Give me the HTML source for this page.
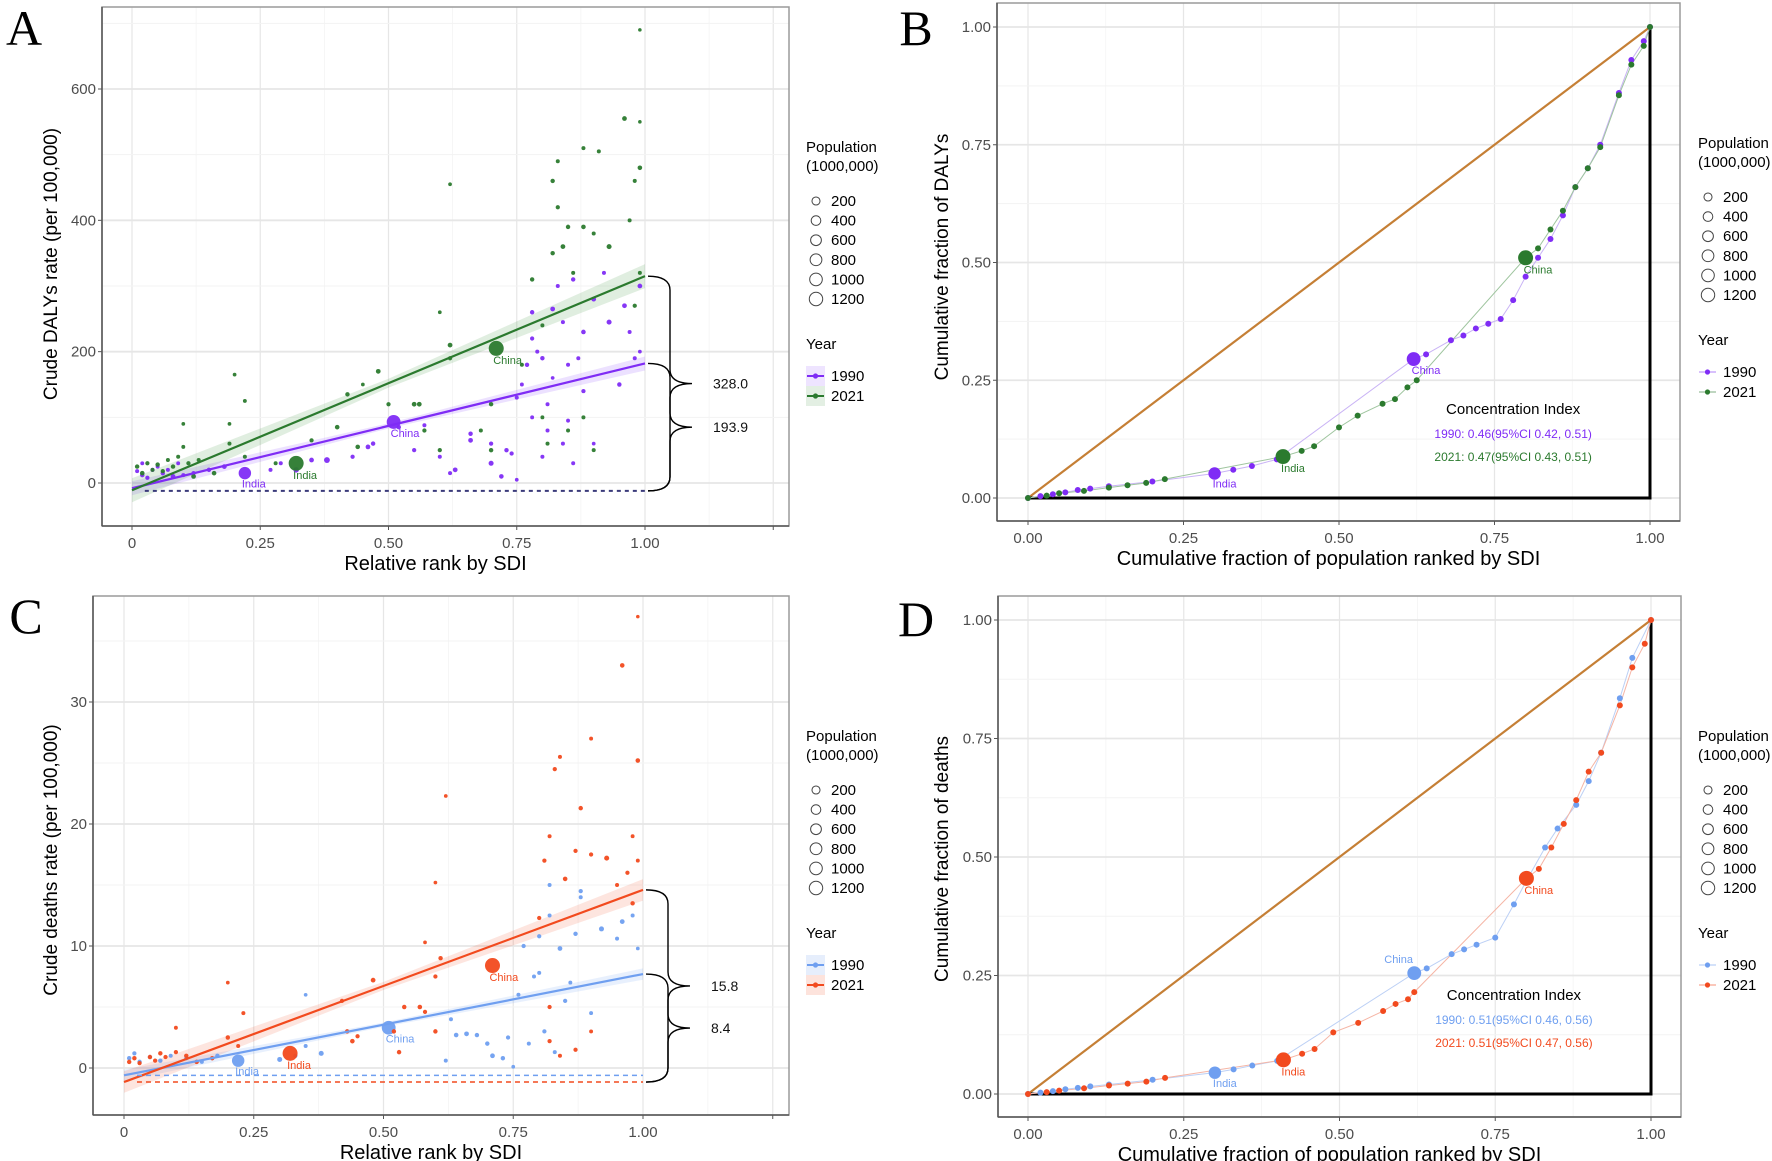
<!DOCTYPE html>
<html><head><meta charset="utf-8"><style>
html,body{margin:0;padding:0;background:#fff;}
svg{display:block;}
text{font-family:"Liberation Sans",Arial,sans-serif;}
.tick{font-family:"Liberation Sans Narrow","Liberation Sans",sans-serif;font-size:15px;fill:#4d4d4d;}
.xt{font-family:"Liberation Sans Narrow","Liberation Sans",sans-serif;font-size:20px;fill:#000;}
.yt{font-size:19px;fill:#000;}
.leg{font-size:15px;fill:#000;}
.plab{font-family:"Liberation Serif",serif;font-size:50px;fill:#000;}
.cl{font-family:"Liberation Sans Narrow","Liberation Sans",sans-serif;font-size:11px;}
</style></head><body>
<svg id="fig" width="1772" height="1161" viewBox="0 0 1772 1161" xmlns="http://www.w3.org/2000/svg"></svg>
<script>
// ---------- DATA ----------
const aX1990=[0.22,0.51,0.32,0.35,0.38,0.46,0.52,0.55,0.6,0.62,0.63,0.66,0.66,0.7,0.7,0.72,0.73,0.74,0.75,0.75,0.76,0.77,0.78,0.78,0.79,0.8,0.81,0.81,0.82,0.82,0.83,0.84,0.85,0.86,0.87,0.88,0.88,0.9,0.92,0.93,0.95,0.96,0.97,0.99,0.99,0.98,0.84,0.86,0.9,0.78,0.8,0.85,0.57,0.47,0.43,0.27,0.29,0.18,0.15,0.12,0.08,0.06,0.04,0.02,0.01,0.03,0.05,0.07,0.1,0.09,0.02];
const aY1990=[15,93,20,35,35,55,85,50,40,15,20,65,75,60,30,10,50,45,5,130,150,180,220,260,200,190,120,80,160,265,300,245,180,310,190,140,230,280,320,245,150,270,230,300,200,190,60,30,60,100,40,95,88,60,40,20,30,25,20,15,10,15,20,12,18,8,25,20,12,30,30];
const aP1990=[870,1150,60,30,80,30,20,15,10,10,30,30,20,15,40,25,20,15,5,10,8,20,15,20,10,20,10,10,5,30,10,10,10,20,10,15,25,30,10,40,20,30,10,30,5,10,10,10,5,8,10,8,10,20,15,10,10,30,20,15,30,20,15,20,10,15,10,10,10,8,8];
const aX2021=[0.32,0.71,0.01,0.02,0.03,0.04,0.05,0.06,0.07,0.08,0.09,0.1,0.1,0.11,0.12,0.13,0.16,0.19,0.19,0.2,0.22,0.22,0.28,0.35,0.4,0.42,0.44,0.45,0.48,0.5,0.55,0.56,0.57,0.6,0.62,0.62,0.6,0.62,0.7,0.7,0.78,0.8,0.82,0.82,0.83,0.83,0.84,0.85,0.86,0.88,0.88,0.9,0.91,0.93,0.96,0.97,0.98,0.99,0.99,0.99,0.99,0.98,0.81,0.88,0.85,0.9,0.8,0.68,0.76];
const aY2021=[30,205,25,15,30,20,28,18,35,25,40,55,90,30,10,35,15,60,90,165,125,40,30,65,85,135,55,150,170,120,120,120,80,50,210,190,260,455,50,120,310,240,350,460,420,490,360,390,320,390,510,380,505,360,555,400,460,480,320,690,550,270,60,100,80,50,100,80,180];
const aP2021=[1400,1410,20,25,15,10,20,15,10,20,10,8,5,15,30,10,25,10,5,5,8,10,10,15,25,20,25,5,30,15,30,30,15,15,30,15,5,5,20,20,20,10,20,20,15,10,30,20,10,25,10,10,10,40,30,10,10,25,10,3,3,15,10,10,10,10,8,10,10];
const aFit1990=[-8,182], aFit2021=[-11,315], aBase=-12, aGapLabels=["328.0","193.9"];
const aYTicks=[0,200,400,600], aXTicks=[0,0.25,0.5,0.75,1], aXTickLabels=["0","0.25","0.50","0.75","1.00"];

const cX1990=[0.22,0.51,0.01,0.02,0.03,0.05,0.07,0.09,0.12,0.15,0.18,0.3,0.33,0.35,0.38,0.35,0.63,0.62,0.64,0.66,0.68,0.7,0.71,0.73,0.74,0.75,0.76,0.77,0.8,0.79,0.81,0.82,0.84,0.85,0.87,0.88,0.92,0.96,0.95,0.98,0.99,0.82,0.78,0.88,0.86,0.9,0.83,0.8];
const cY1990=[0.6,3.3,0.8,1.2,0.5,0.9,0.6,1.0,0.8,0.5,1.0,0.7,1.0,1.8,1.2,6.0,4.0,0.6,2.7,2.8,2.7,2.0,1.0,0.8,2.5,0.1,6.0,10.0,10.8,7.5,3.0,12.5,9.8,5.5,11,14.5,11.4,12,10.6,12.5,9.8,15,2.0,14,7,4.5,1.3,7.8];
const cP1990=[870,1150,20,15,20,15,20,10,15,10,20,40,20,10,40,5,10,10,25,30,20,20,30,20,15,5,10,15,15,10,15,10,30,15,20,15,40,30,10,10,5,10,10,10,8,8,10,10];
const cX2021=[0.32,0.71,0.01,0.02,0.03,0.05,0.06,0.07,0.08,0.1,0.1,0.12,0.14,0.17,0.2,0.2,0.22,0.23,0.42,0.43,0.44,0.45,0.48,0.52,0.53,0.54,0.57,0.58,0.6,0.6,0.61,0.58,0.6,0.62,0.8,0.81,0.82,0.83,0.85,0.84,0.87,0.88,0.9,0.9,0.93,0.96,0.97,0.98,0.99,0.99,0.98,0.99,0.82,0.82,0.87,0.9,0.84,0.95];
const cY2021=[1.2,8.4,0.5,0.8,0.4,0.9,0.6,1.2,0.9,3.3,1.3,1.0,0.5,0.8,7.0,2.5,1.8,4.5,5.5,3.0,2.2,2.6,7.2,3.0,1.3,5.0,5.0,4.6,7.5,3.0,9.0,10.3,15.2,22.3,12.3,17,19,24.5,15.5,25.5,17.8,21.3,17.5,27,17.2,33,16,13.5,25.2,37,19,17,5.0,2.2,1.5,3.0,1.0,15];
const cP2021=[1400,1410,20,20,15,20,15,20,15,8,15,20,20,20,5,20,10,10,15,20,25,15,30,20,20,20,25,15,15,20,20,5,5,5,15,15,10,15,25,10,15,20,15,8,40,25,15,20,25,3,8,8,15,15,15,8,10,10];
const cFit1990=[-0.6,7.7], cFit2021=[-1.15,14.6], cBase1990=-0.6, cBase2021=-1.15, cGapLabels=["15.8","8.4"];
const cYTicks=[0,10,20,30];

const bX1990=[0,0.02,0.04,0.06,0.08,0.1,0.13,0.2,0.3,0.33,0.36,0.4,0.62,0.64,0.68,0.7,0.72,0.74,0.76,0.78,0.8,0.82,0.84,0.86,0.88,0.9,0.92,0.95,0.97,0.99,1];
const bY1990=[0,0.004,0.008,0.012,0.017,0.02,0.025,0.035,0.052,0.06,0.068,0.082,0.295,0.305,0.335,0.345,0.36,0.37,0.38,0.42,0.47,0.51,0.55,0.6,0.66,0.7,0.75,0.86,0.93,0.97,1];
const bP1990=[5,10,15,15,20,15,20,15,870,20,20,40,1150,20,30,20,30,20,20,20,20,30,20,20,20,15,15,25,15,10,5];
const bX2021=[0,0.03,0.05,0.09,0.13,0.16,0.19,0.22,0.41,0.44,0.46,0.5,0.53,0.57,0.59,0.61,0.625,0.8,0.82,0.84,0.86,0.88,0.9,0.92,0.95,0.97,0.99,1];
const bY2021=[0,0.005,0.01,0.015,0.022,0.027,0.032,0.04,0.088,0.1,0.11,0.15,0.175,0.2,0.21,0.235,0.25,0.51,0.53,0.57,0.61,0.66,0.7,0.745,0.855,0.92,0.96,1];
const bP2021=[5,15,20,20,25,30,30,20,1400,25,25,30,25,20,15,20,15,1410,20,20,20,25,15,15,30,15,10,5];
const bCI=["1990: 0.46(95%CI 0.42, 0.51)","2021: 0.47(95%CI 0.43, 0.51)"];

const dX1990=[0,0.02,0.04,0.06,0.08,0.1,0.13,0.2,0.3,0.33,0.36,0.4,0.62,0.64,0.68,0.7,0.72,0.75,0.78,0.8,0.83,0.85,0.88,0.9,0.92,0.95,0.97,1];
const dY1990=[0,0.003,0.006,0.01,0.013,0.016,0.02,0.03,0.045,0.052,0.06,0.07,0.255,0.265,0.295,0.305,0.315,0.33,0.4,0.45,0.52,0.56,0.61,0.66,0.72,0.835,0.92,1];
const dP1990=[5,10,15,15,20,15,20,15,870,20,20,40,1150,20,30,20,30,20,20,20,20,20,20,15,15,25,15,5];
const dX2021=[0,0.03,0.05,0.09,0.13,0.16,0.19,0.22,0.41,0.44,0.46,0.49,0.53,0.57,0.59,0.61,0.62,0.8,0.82,0.84,0.86,0.88,0.9,0.92,0.95,0.97,0.99,1];
const dY2021=[0,0.004,0.007,0.012,0.018,0.022,0.026,0.034,0.072,0.085,0.095,0.13,0.15,0.175,0.19,0.2,0.215,0.455,0.475,0.52,0.57,0.62,0.68,0.72,0.82,0.9,0.95,1];
const dP2021=[5,15,20,20,25,30,30,20,1400,25,25,30,25,20,15,20,15,1410,20,20,20,25,15,15,30,15,10,5];
const dCI=["1990: 0.51(95%CI 0.46, 0.56)","2021: 0.51(95%CI 0.47, 0.56)"];

const legendSizes=[200,400,600,800,1000,1200];
const years=["1990","2021"];

// ---------- DRAWING ----------
const NS="http://www.w3.org/2000/svg";
const svg=document.getElementById('fig');
function mk(tag,attrs,parent,txt){const e=document.createElementNS(NS,tag);for(const k in attrs)e.setAttribute(k,attrs[k]);if(txt!==undefined)e.textContent=txt;(parent||svg).appendChild(e);return e;}
function rad(p){return 1.5+Math.sqrt(p)*0.16;}

function frame(P){
  const g=mk('g',{});
  
  
  mk('rect',{x:P.L,y:P.T,width:P.R-P.L,height:P.B-P.T,fill:'#fff'},g);
  for(let v=P.xmin;v<=P.xmax+1e-9;v+=P.xstep/2){const x=P.sx(v);const maj=Math.abs(v/P.xstep-Math.round(v/P.xstep))<1e-6;if(x>P.L&&x<P.R)mk('line',{x1:x,x2:x,y1:P.T,y2:P.B,stroke:maj?'#e6e6e6':'#f3f3f3','stroke-width':maj?1.2:0.8},g);}
  for(let v=P.ymin;v<=P.ymax+1e-9;v+=P.ystep/2){const y=P.sy(v);const maj=Math.abs(v/P.ystep-Math.round(v/P.ystep))<1e-6;if(y>P.T&&y<P.B)mk('line',{x1:P.L,x2:P.R,y1:y,y2:y,stroke:maj?'#e6e6e6':'#f3f3f3','stroke-width':maj?1.8:1},g);}
  mk('rect',{x:P.L,y:P.T,width:P.R-P.L,height:P.B-P.T,fill:'none',stroke:'#9a9a9a','stroke-width':1.5},g);
  mk('line',{x1:P.L,x2:P.L,y1:P.T,y2:P.B,stroke:'#555','stroke-width':1.5},g);
  mk('line',{x1:P.L,x2:P.R,y1:P.B,y2:P.B,stroke:'#555','stroke-width':1.5},g);
  P.xticks.forEach((v,i)=>{const x=P.sx(v);mk('line',{x1:x,x2:x,y1:P.B,y2:P.B+4,stroke:'#555'},g);
    const t=mk('text',{x:x,y:P.B+22,'text-anchor':'middle',class:'tick'},g,P.xlabels[i]);
    });
  if(P.extraTick){const x=P.sx(P.extraTick);mk('line',{x1:x,x2:x,y1:P.B,y2:P.B+4,stroke:'#555'},g);}
  P.yticks.forEach((v,i)=>{const y=P.sy(v);mk('line',{x1:P.L-4,x2:P.L,y1:y,y2:y,stroke:'#555'},g);
    const t=mk('text',{x:P.L-6,y:y+5,'text-anchor':'end',class:'tick'},g,P.ylabels[i]);
    });
  const xt=mk('text',{x:(P.L+P.R)/2-10,y:P.B+44,'text-anchor':'middle',class:'xt'},g,P.xtitle);
  
  const yt=mk('text',{x:0,y:0,'text-anchor':'middle',class:'yt',transform:`translate(${P.ytx},${P.yty}) rotate(-90)`},g,P.ytitle);
  
  const pl=mk('text',{x:P.labX,y:P.labY,'text-anchor':'middle',class:'plab'},g,P.letter);
  
  return g;
}

function legend(lx,ty,cols,bands){
  const g=mk('g',{});
  
  
  mk('text',{x:lx,y:ty,class:'leg'},g,'Population');
  mk('text',{x:lx,y:ty+19,class:'leg'},g,'(1000,000)');
  legendSizes.forEach((s,i)=>{const y=ty+49+i*19.6;
    const c=mk('circle',{cx:lx+10,cy:y,r:2.2+Math.sqrt(s)*0.13,fill:'none',stroke:'#444','stroke-width':1},g);
    
    mk('text',{x:lx+25,y:y+5,class:'leg'},g,String(s));});
  mk('text',{x:lx,y:ty+197,class:'leg'},g,'Year');
  years.forEach((yr,i)=>{const y=ty+224+i*20;
    if(bands)mk('rect',{x:lx,y:y-10,width:19,height:20,fill:bands[i]},g);
    mk('line',{x1:lx+1,x2:lx+18,y1:y,y2:y,stroke:cols[i],'stroke-width':bands?2:1,opacity:bands?1:0.6},g);
    mk('circle',{cx:lx+9.5,cy:y,r:2.6,fill:cols[i]},g);
    const t=mk('text',{x:lx+25,y:y+5,class:'leg'},g,yr);
    });
}

function brace(g,x0,y1,y2,w){const ym=(y1+y2)/2,r=Math.min(14,(y2-y1)/4);
  mk('path',{d:`M${x0},${y1} Q${x0+w},${y1} ${x0+w},${y1+r} L${x0+w},${ym-r} Q${x0+w},${ym} ${x0+2*w},${ym} Q${x0+w},${ym} ${x0+w},${ym+r} L${x0+w},${y2-r} Q${x0+w},${y2} ${x0},${y2}`,fill:'none',stroke:'#000','stroke-width':1.4},g);}

function scatterPanel(P,X1,Y1,S1,X2,Y2,S2,fit1,fit2,base1,base2,gaps,cols,bands){
  frame(P);
  const g=mk('g',{});
  
  [[fit1,cols[0],bands[0]],[fit2,cols[1],bands[1]]].forEach(([f,c,b])=>{
    const w=(f[1]-f[0])*0.035;const xs=[0,0.25,0.5,0.75,1];
    const up=xs.map(x=>[P.sx(x),P.sy(f[0]+(f[1]-f[0])*x+w*(0.6+Math.abs(x-0.5)*2))]);
    const lo=xs.map(x=>[P.sx(x),P.sy(f[0]+(f[1]-f[0])*x-w*(0.6+Math.abs(x-0.5)*2))]).reverse();
    const band=mk('polygon',{points:up.concat(lo).map(p=>p.join(',')).join(' '),fill:b},g);
    
  });
  const sets=[[X1,Y1,S1,cols[0]],[X2,Y2,S2,cols[1]]];
  sets.forEach(([X,Y,S,c],si)=>{X.forEach((x,i)=>{
    const pt=mk('circle',{cx:P.sx(x),cy:P.sy(Y[i]),r:rad(S[i]),fill:c,opacity:0.95},g);
    
    if(i<2){mk('text',{x:P.sx(x)-3,y:P.sy(Y[i])+rad(S[i])+8,class:'cl',fill:c},g,i===0?'India':'China');}
  });});
  [[fit1,cols[0]],[fit2,cols[1]]].forEach(([f,c],k)=>{
    const l=mk('line',{x1:P.sx(0),y1:P.sy(f[0]),x2:P.sx(1),y2:P.sy(f[1]),stroke:c,'stroke-width':2.2},g);
    });
  if(base1===base2){mk('line',{x1:P.sx(0.025),x2:P.sx(1),y1:P.sy(base1),y2:P.sy(base1),stroke:'#3a3a7a','stroke-width':2,'stroke-dasharray':'4,4'},g);}
  else{mk('line',{x1:P.sx(0.025),x2:P.sx(1),y1:P.sy(base1),y2:P.sy(base1),stroke:cols[0],'stroke-width':1.5,'stroke-dasharray':'5,4'},g);
       mk('line',{x1:P.sx(0.025),x2:P.sx(1),y1:P.sy(base2),y2:P.sy(base2),stroke:cols[1],'stroke-width':1.5,'stroke-dasharray':'5,4'},g);}
  const bx=P.sx(1)+3;
  const lowY=Math.max(P.sy(base1),P.sy(base2));
  brace(g,bx,P.sy(fit2[1]),lowY,22);
  brace(g,bx,P.sy(fit1[1]),lowY,22);
  const m2=(P.sy(fit2[1])+lowY)/2, m1=(P.sy(fit1[1])+lowY)/2;
  mk('text',{x:bx+65,y:m2+5,class:'tick',style:'fill:#111;font-size:14px'},g,gaps[0]);
  mk('text',{x:bx+65,y:m1+5,class:'tick',style:'fill:#111;font-size:14px'},g,gaps[1]);
}

function concPanel(P,X1,Y1,S1,X2,Y2,S2,cols,lineCols,ci,chinaAbove){
  frame(P);
  const g=mk('g',{});
  
  const eq=mk('line',{x1:P.sx(0),y1:P.sy(0),x2:P.sx(1),y2:P.sy(1),stroke:'#c57f35','stroke-width':2.2},g);
  
  mk('path',{d:`M${P.sx(0)},${P.sy(0)} L${P.sx(1)},${P.sy(0)} L${P.sx(1)},${P.sy(1)}`,fill:'none',stroke:'#000','stroke-width':3},g);
  [[X1,Y1,lineCols[0]],[X2,Y2,lineCols[1]]].forEach(([X,Y,c],k)=>{
    const l=mk('polyline',{points:X.map((x,i)=>P.sx(x)+','+P.sy(Y[i])).join(' '),fill:'none',stroke:c,'stroke-width':1},g);
    });
  [[X1,Y1,S1,cols[0]],[X2,Y2,S2,cols[1]]].forEach(([X,Y,S,c],si)=>{X.forEach((x,i)=>{
    const big=S[i]>500;
    const r=big?rad(S[i]):3.0;
    const pt=mk('circle',{cx:P.sx(x),cy:P.sy(Y[i]),r:r,fill:c},g);
    
    if(big){const nm=x<0.5?'India':'China';
      if(chinaAbove&&si===0&&nm==='China') mk('text',{x:P.sx(x)-30,y:P.sy(Y[i])-10,class:'cl',fill:c},g,nm);
      else mk('text',{x:P.sx(x)-2,y:P.sy(Y[i])+r+8,class:'cl',fill:c},g,nm);}
  });});
  const cx=P.sx(0.78);
  mk('text',{x:cx,y:P.ciY,'text-anchor':'middle',class:'leg'},g,'Concentration Index');
  mk('text',{x:cx,y:P.ciY+24,'text-anchor':'middle',class:'cl',fill:cols[0],style:'font-size:12px'},g,ci[0]);
  mk('text',{x:cx,y:P.ciY+47,'text-anchor':'middle',class:'cl',fill:cols[1],style:'font-size:12px'},g,ci[1]);
}

function lin(d0,d1,r0,r1){return v=>r0+(v-d0)*(r1-r0)/(d1-d0);}

const purple='#7f2cf5', green='#2b7a2e', blue='#6f9ff0', red='#f24a1e';
const PA={name:'dalys-rate',L:102,R:789,T:7,B:526,sx:lin(0,1,132,645),sy:lin(0,600,483,89),
  xmin:-0.125,xmax:1.375,xstep:0.25,ymin:-100,ymax:800,ystep:200,xticks:aXTicks,xlabels:aXTickLabels,extraTick:1.25,
  yticks:aYTicks,ylabels:aYTicks.map(String),xtitle:'Relative rank by SDI',ytitle:'Crude DALYs rate (per 100,000)',ytx:57,yty:264,letter:'A',labX:24,labY:45};
scatterPanel(PA,aX1990,aY1990,aP1990,aX2021,aY2021,aP2021,aFit1990,aFit2021,aBase,aBase,aGapLabels,[purple,green],['rgba(150,90,255,0.18)','rgba(60,150,60,0.16)']);
legend(806,152,[purple,green],['#eee4ff','#e3efe3']);

const PC={name:'deaths-rate',L:93,R:789,T:596,B:1115,sx:lin(0,1,124,643),sy:lin(0,10,1068,946),
  xmin:-0.125,xmax:1.375,xstep:0.25,ymin:-5,ymax:40,ystep:10,xticks:aXTicks,xlabels:aXTickLabels,extraTick:1.25,
  yticks:cYTicks,ylabels:cYTicks.map(String),xtitle:'Relative rank by SDI',ytitle:'Crude deaths rate (per 100,000)',ytx:57,yty:860,letter:'C',labX:26,labY:633};
scatterPanel(PC,cX1990,cY1990,cP1990,cX2021,cY2021,cP2021,cFit1990,cFit2021,cBase1990,cBase2021,cGapLabels,[blue,red],['rgba(110,160,240,0.16)','rgba(242,74,30,0.14)']);
legend(806,741,[blue,red],['#e6eefc','#fde3dc']);

const concTicks=[0,0.25,0.5,0.75,1], concLabels=['0.00','0.25','0.50','0.75','1.00'];
const PB={name:'dalys-concentration',L:997,R:1680,T:3,B:521,sx:lin(0,1,1028,1650),sy:lin(0,1,498,27),
  xmin:-0.125,xmax:1.25,xstep:0.25,ymin:-0.125,ymax:1.25,ystep:0.25,xticks:concTicks,xlabels:concLabels,
  yticks:concTicks,ylabels:concLabels,xtitle:'Cumulative fraction of population ranked by SDI',ytitle:'Cumulative fraction of DALYs',ytx:948,yty:257,letter:'B',labX:916,labY:45,ciY:414};
concPanel(PB,bX1990,bY1990,bP1990,bX2021,bY2021,bP2021,[purple,green],['#c9b3f5','#9fc59f'],bCI,false);
legend(1698,148,[purple,green],null);

const PD={name:'deaths-concentration',L:998,R:1681,T:596,B:1117,sx:lin(0,1,1028,1651),sy:lin(0,1,1094,620),
  xmin:-0.125,xmax:1.25,xstep:0.25,ymin:-0.125,ymax:1.25,ystep:0.25,xticks:concTicks,xlabels:concLabels,
  yticks:concTicks,ylabels:concLabels,xtitle:'Cumulative fraction of population ranked by SDI',ytitle:'Cumulative fraction of deaths',ytx:948,yty:859,letter:'D',labX:916,labY:636,ciY:1000};
concPanel(PD,dX1990,dY1990,dP1990,dX2021,dY2021,dP2021,[blue,red],['#bcd0f5','#f5b5a5'],dCI,true);
legend(1698,741,[blue,red],null);
</script>
</body></html>
